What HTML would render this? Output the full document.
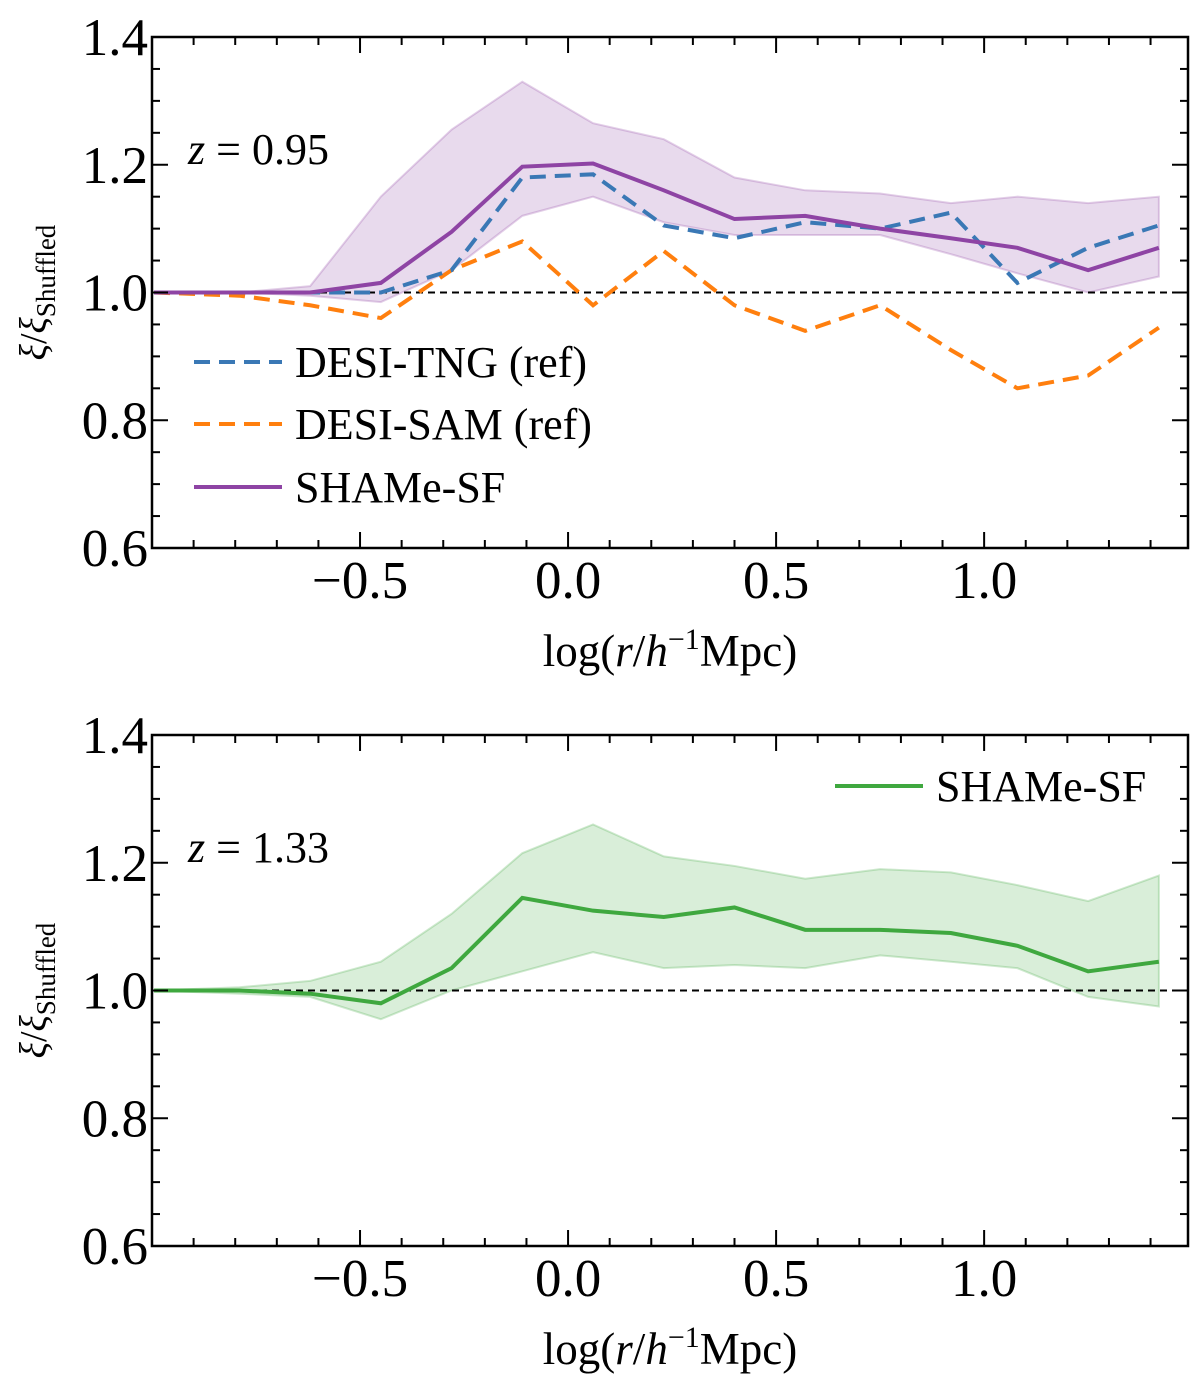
<!DOCTYPE html>
<html><head><meta charset="utf-8"><style>
body{margin:0;background:#fff}
svg text{font-family:"Liberation Serif",serif;fill:#000}
</style></head><body>
<svg id="chart" width="1200" height="1389" xmlns="http://www.w3.org/2000/svg"></svg>
<script>
const xs=[-0.995,-0.79,-0.62,-0.45,-0.28,-0.11,0.06,0.23,0.40,0.57,0.75,0.92,1.08,1.25,1.42];
const purple=[1.0,1.0,1.0,1.015,1.095,1.197,1.202,1.16,1.115,1.12,1.10,1.085,1.07,1.035,1.07];
const purpleHi=[1.0,1.0,1.01,1.15,1.255,1.33,1.265,1.24,1.18,1.16,1.155,1.14,1.15,1.14,1.15];
const purpleLo=[1.0,1.0,0.995,0.985,1.035,1.12,1.15,1.11,1.09,1.09,1.09,1.06,1.03,1.0,1.025];
const blue=[1.0,1.0,1.0,1.0,1.035,1.18,1.185,1.105,1.085,1.11,1.10,1.125,1.015,1.07,1.105];
const orange=[1.0,0.995,0.98,0.96,1.035,1.08,0.98,1.065,0.98,0.94,0.98,0.91,0.85,0.87,0.945];
const green=[1.0,1.0,0.995,0.98,1.035,1.145,1.125,1.115,1.13,1.095,1.095,1.09,1.07,1.03,1.045];
const greenHi=[1.0,1.005,1.015,1.045,1.12,1.215,1.26,1.21,1.195,1.175,1.19,1.185,1.165,1.14,1.18];
const greenLo=[1.0,0.995,0.99,0.955,1.0,1.03,1.06,1.035,1.04,1.035,1.055,1.045,1.035,0.99,0.975];
const xTicks=[-0.5,0.0,0.5,1.0];
const xTickLabels=["\u22120.5","0.0","0.5","1.0"];
const yTicks=[0.6,0.8,1.0,1.2,1.4];
const yTickLabels=["0.6","0.8","1.0","1.2","1.4"];

const svg=document.getElementById('chart');
const NS='http://www.w3.org/2000/svg';
function mk(tag,attrs,parent){const e=document.createElementNS(NS,tag);for(const k in attrs)e.setAttribute(k,attrs[k]);(parent||svg).appendChild(e);return e;}
const L=152,R=1188,XMIN=-1.0,XMAX=1.49;
function X(v){return L+(v-XMIN)/(XMAX-XMIN)*(R-L);}

function panel(top,bottom,name,series,bands,zlabel){
  const g=mk('g',{});
  
  
  const Y=v=>bottom-(v-0.6)/0.8*(bottom-top);
  bands.forEach(b=>{
    let d='';xs.forEach((x,i)=>d+=(i?'L':'M')+X(x)+','+Y(b.hi[i]));
    for(let i=xs.length-1;i>=0;i--)d+='L'+X(xs[i])+','+Y(b.lo[i]);
    const p=mk('path',{d:d+'Z',fill:b.c,'fill-opacity':0.2,stroke:b.c,'stroke-opacity':0.25,'stroke-width':2},g);
    
    
  });
  const ref=mk('line',{x1:L,x2:R,y1:Y(1),y2:Y(1),stroke:'#000','stroke-width':2,'stroke-dasharray':'7,5'},g);
  
  
  series.forEach(s=>{
    const pts=xs.map((x,i)=>X(x)+','+Y(s.v[i])).join(' ');
    const a={points:pts,fill:'none',stroke:s.c,'stroke-width':4};
    if(s.dash)a['stroke-dasharray']='16,9';
    const p=mk('polyline',a,g);
    
    
  });
  for(let v=-1.0;v<=1.49;v+=0.1){const x=X(v);const maj=Math.abs(Math.round(v*2)/2-v)<1e-6;const len=maj?16:8;
    mk('line',{x1:x,x2:x,y1:bottom,y2:bottom-len,stroke:'#000','stroke-width':2},g);
    mk('line',{x1:x,x2:x,y1:top,y2:top+len,stroke:'#000','stroke-width':2},g);}
  for(let v=0.6;v<=1.4001;v+=0.05){const y=Y(v);const maj=Math.abs(Math.round(v*5)/5-v)<1e-6;const len=maj?16:8;
    mk('line',{x1:L,x2:L+len,y1:y,y2:y,stroke:'#000','stroke-width':2},g);
    mk('line',{x1:R,x2:R-len,y1:y,y2:y,stroke:'#000','stroke-width':2},g);}
  xTicks.forEach((v,i)=>{const t=mk('text',{x:X(v),y:bottom+50,'font-size':53,'text-anchor':'middle'},g);t.textContent=xTickLabels[i];
    
    });
  yTicks.forEach((v,i)=>{const t=mk('text',{x:L-4,y:Y(v)+18,'font-size':53,'text-anchor':'end'},g);t.textContent=yTickLabels[i];
    
    });
  const fr=mk('rect',{x:L,y:top,width:R-L,height:bottom-top,fill:'none',stroke:'#000','stroke-width':2.5},g);
  
  
  const xl=mk('text',{x:670,y:bottom+118,'font-size':45,'text-anchor':'middle'},g);
  xl.innerHTML='log(<tspan font-style="italic">r</tspan>/<tspan font-style="italic">h</tspan><tspan dy="-17" font-size="30">\u22121</tspan><tspan dy="17">Mpc)</tspan>';
  
  
  const cy=(top+bottom)/2;
  const yl=mk('text',{x:0,y:0,'font-size':38,'text-anchor':'middle',transform:`translate(46,${cy}) rotate(-90)`},g);
  yl.innerHTML='<tspan font-style="italic">ξ</tspan>/<tspan font-style="italic">ξ</tspan><tspan dy="9" font-size="27">Shuffled</tspan>';
  
  
  const zt=mk('text',{x:188,y:Y(1.2)-1,'font-size':44},g);
  zt.innerHTML='<tspan font-style="italic">z</tspan> = '+zlabel;
  
  
  return g;
}
panel(37,548,'top-panel',[
  {v:orange,c:'#ff7f0e',dash:1,n:'desi-sam-line'},
  {v:blue,c:'#3a78b5',dash:1,n:'desi-tng-line'},
  {v:purple,c:'#8e44a4',n:'shame-sf-line'}],
  [{hi:purpleHi,lo:purpleLo,c:'#8e44a4',n:'shame-sf-band'}],'0.95');
panel(735,1246,'bottom-panel',[{v:green,c:'#3fa83f',n:'shame-sf-line'}],
  [{hi:greenHi,lo:greenLo,c:'#3fa83f',n:'shame-sf-band'}],'1.33');

function legend(x,y,c,dash,label,name){
  const g=mk('g',{});
  
  
  const a={x1:x,x2:x+88,y1:y,y2:y,stroke:c,'stroke-width':4};
  if(dash)a['stroke-dasharray']='16,9';
  mk('line',a,g);
  const t=mk('text',{x:x+101,y:y+15,'font-size':44},g);t.textContent=label;
}
legend(194,362,'#3a78b5',1,'DESI-TNG (ref)','legend-entry-desi-tng');
legend(194,424,'#ff7f0e',1,'DESI-SAM (ref)','legend-entry-desi-sam');
legend(194,487,'#8e44a4',0,'SHAMe-SF','legend-entry-shame-sf');
legend(835,786,'#3fa83f',0,'SHAMe-SF','legend-entry-shame-sf-bottom');
</script>
</body></html>
